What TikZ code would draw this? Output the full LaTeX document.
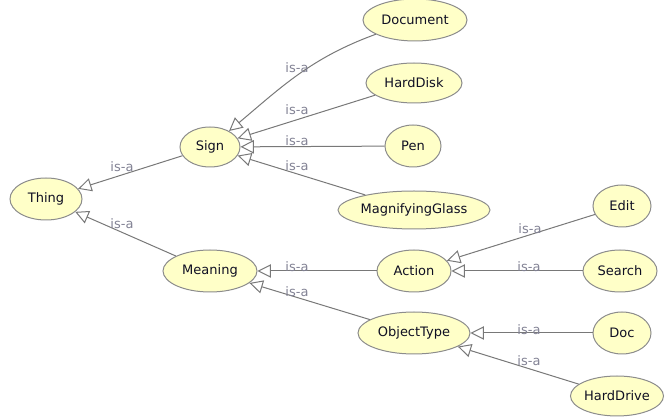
\documentclass[tikz,border=0pt]{standalone}
\usepackage{fontspec}
\setmainfont{DejaVu Sans}
\usetikzlibrary{shapes.geometric,arrows.meta}
\definecolor{nodefill}{RGB}{255,255,200}
\definecolor{nodeline}{RGB}{140,140,140}
\definecolor{edgecol}{RGB}{120,120,120}
\definecolor{lblcol}{RGB}{130,130,148}
\definecolor{txtcol}{RGB}{15,15,35}
\tikzset{
  cls/.style={ellipse, draw=nodeline, fill=nodefill, line width=0.75pt, inner sep=0pt,
    text=txtcol, font=\fontsize{9.75}{12}\selectfont},
  isa/.style={draw=edgecol, line width=0.75pt,
    -{Triangle[open, fill=white, length=10pt, width=10pt]}},
  lbl/.style={text=lblcol, font=\fontsize{9.75}{12}\selectfont, inner sep=0pt}
}
\begin{document}
\begin{tikzpicture}[x=0.75pt, y=-0.75pt]
\useasboundingbox (0,0) rectangle (665,420);
% nodes
\node[cls, minimum width=54pt, minimum height=31.5pt] (thing) at (46,199) {Thing};
\node[cls, minimum width=45pt, minimum height=30pt] (sign) at (210,147) {Sign};
\node[cls, minimum width=70.5pt, minimum height=31.5pt] (meaning) at (210,271) {Meaning};
\node[cls, minimum width=78pt, minimum height=31.5pt] (document) at (415,20) {Document};
\node[cls, minimum width=72pt, minimum height=30pt] (harddisk) at (414,83) {HardDisk};
\node[cls, minimum width=42pt, minimum height=31.5pt] (pen) at (413,146) {Pen};
\node[cls, minimum width=114pt, minimum height=28.5pt] (magglass) at (414,210) {MagnifyingGlass};
\node[cls, minimum width=55.5pt, minimum height=31.5pt] (action) at (414,271) {Action};
\node[cls, minimum width=55.5pt, minimum height=31.5pt] (search) at (620,271) {Search};
\node[cls, minimum width=43.5pt, minimum height=31.5pt] (edit) at (622,206) {Edit};
\node[cls, minimum width=84pt, minimum height=31.5pt] (objecttype) at (414,333) {ObjectType};
\node[cls, minimum width=43.5pt, minimum height=31.5pt] (doc) at (622,333) {Doc};
\node[cls, minimum width=69pt, minimum height=30pt] (harddrive) at (617,396) {HardDrive};
% edges
\draw[isa] (sign) -- (thing);
\draw[isa] (meaning) -- (thing);
\draw[isa] (document) to[out=200, in=40] (sign);
\draw[isa] (harddisk) -- (sign);
\draw[isa] (pen) -- (sign);
\draw[isa] (magglass) -- (sign);
\draw[isa] (action) -- (meaning);
\draw[isa] (objecttype) -- (meaning);
\draw[isa] (edit) -- (action);
\draw[isa] (search) -- (action);
\draw[isa] (doc) -- (objecttype);
\draw[isa] (harddrive) -- (objecttype);
% labels
\node[lbl] (l1) at (122,167) {is-a};
\node[lbl] (l2) at (122,224) {is-a};
\node[lbl] (l3) at (297,68) {is-a};
\node[lbl] (l4) at (297,110) {is-a};
\node[lbl] (l5) at (297,141) {is-a};
\node[lbl] (l6) at (297,166) {is-a};
\node[lbl] (l7) at (297,267) {is-a};
\node[lbl] (l8) at (297,292) {is-a};
\node[lbl] (l9) at (530,229) {is-a};
\node[lbl] (l10) at (529,267) {is-a};
\node[lbl] (l11) at (529,330) {is-a};
\node[lbl] (l12) at (529,361) {is-a};
\end{tikzpicture}
\end{document}
